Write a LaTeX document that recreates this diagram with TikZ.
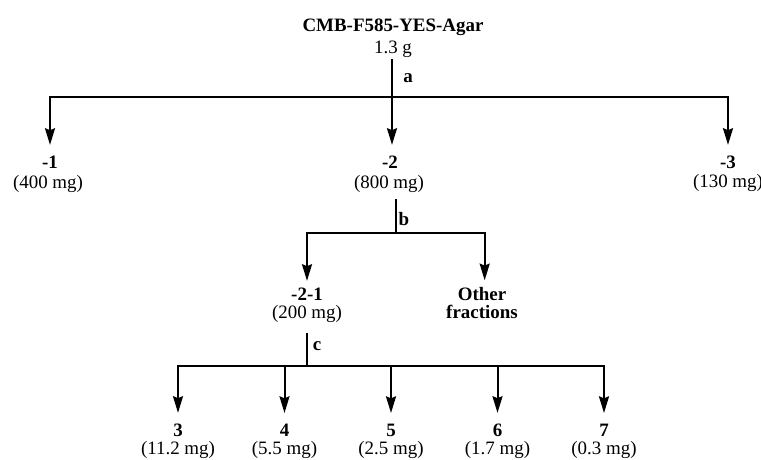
\documentclass[tikz,border=0pt]{standalone}
\usepackage{fontspec}
\setmainfont{Liberation Serif}
\usetikzlibrary{arrows.meta, positioning}

\tikzstyle{fracname} = [font=\fontsize{14.2}{16}\selectfont\bfseries]
\tikzstyle{fracmass} = [font=\fontsize{14.2}{16}\selectfont]
\tikzstyle{branch} = [line width=1.5pt]
\tikzstyle{arrow} = [line width=1.5pt, -{Stealth[length=12.5pt, width=7.5pt, inset=1.5pt]}, shorten >=7pt]

\begin{document}
\begin{tikzpicture}[x=0.75pt, y=-0.75pt, every node/.style={inner sep=0.75pt, anchor=base, align=center}]
    \useasboundingbox (0,0) rectangle (761,460);

    % Nodes
    \node (extract) [fracname] at (393,32) {CMB-F585-YES-Agar};
    \node (extractw) [fracmass] at (393,54) {1.3 g};
    \node (stepa) [fracname] at (408,83) {a};

    \node (f1) [fracname] at (50,168) {-1};
    \node (f1w) [fracmass] at (48,188) {(400 mg)};
    \node (f2) [fracname] at (390,168) {-2};
    \node (f2w) [fracmass] at (389,188) {(800 mg)};
    \node (f3) [fracname] at (728,168) {-3};
    \node (f3w) [fracmass] at (728,187) {(130 mg)};
    \node (stepb) [fracname] at (404,225) {b};

    \node (f21) [fracname] at (307,300) {-2-1};
    \node (f21w) [fracmass] at (307,318) {(200 mg)};
    \node (other) [fracname] at (482,300) {Other};
    \node (otherw) [fracname] at (482,318) {fractions};
    \node (stepc) [fracname] at (317,350) {c};

    \node (c3) [fracname] at (178,436) {3};
    \node (c3w) [fracmass] at (178,454) {(11.2 mg)};
    \node (c4) [fracname] at (284.5,436) {4};
    \node (c4w) [fracmass] at (284.5,454) {(5.5 mg)};
    \node (c5) [fracname] at (391,436) {5};
    \node (c5w) [fracmass] at (391,454) {(2.5 mg)};
    \node (c6) [fracname] at (497.5,436) {6};
    \node (c6w) [fracmass] at (497.5,454) {(1.7 mg)};
    \node (c7) [fracname] at (604,436) {7};
    \node (c7w) [fracmass] at (604,454) {(0.3 mg)};

    \coordinate (ja) at (392,97);
    \coordinate (jb) at (396,233);
    \coordinate (jc) at (307,366);

    % Connections
    \draw [branch] (ja |- extractw.south) -- (ja);
    \draw [arrow] (ja) -| (f1.north);
    \draw [arrow] (ja) -- (ja |- f2.north);
    \draw [arrow] (ja) -| (f3.north);

    \draw [branch, shorten <=4.5pt] (jb |- f2w.south) -- (jb);
    \draw [arrow, shorten >=4pt] (jb) -| (f21.north);
    \draw [arrow, shorten >=4pt] (jb) -| ([xshift=2pt]other.north);

    \draw [branch, shorten <=7.5pt] (jc |- f21w.south) -- (jc);
    \draw [arrow] (jc) -| (c3.north);
    \draw [arrow] (jc) -| (c4.north);
    \draw [arrow] (jc) -| (c5.north);
    \draw [arrow] (jc) -| (c6.north);
    \draw [arrow] (jc) -| (c7.north);
\end{tikzpicture}
\end{document}
